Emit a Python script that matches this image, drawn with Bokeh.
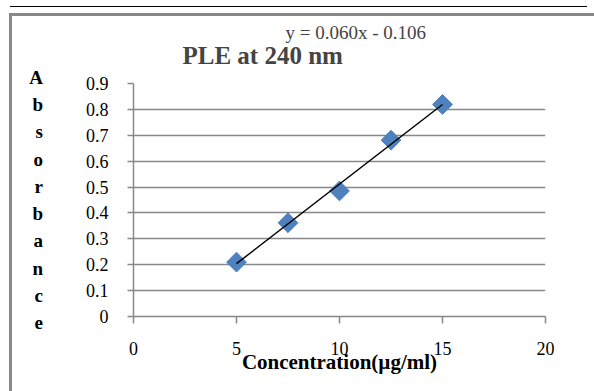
import numpy as np
from bokeh.plotting import figure
from bokeh.models import Title, Range1d, FixedTicker
from bokeh.embed import file_html
from bokeh.resources import INLINE

# ---- data ----
concentration = [5, 7.5, 10, 12.5, 15]
absorbance = [0.210, 0.362, 0.485, 0.681, 0.819]
x_ticks = [0, 5, 10, 15, 20]
y_ticks = [0, 0.1, 0.2, 0.3, 0.4, 0.5, 0.6, 0.7, 0.8, 0.9]
title_text = "PLE at 240 nm"
equation_text = "y = 0.060x - 0.106"
x_title = "Concentration(µg/ml)"
y_title = "Absorbance"

SERIF = "Liberation Serif"
GRAY = "#888888"

p = figure(width=594, height=391, output_backend="svg", toolbar_location=None,
           x_range=Range1d(0, 20), y_range=Range1d(0, 0.9),
           min_border_left=133, min_border_right=49,
           min_border_top=83, min_border_bottom=75)
p.outline_line_color = None
p.background_fill_color = "white"
p.border_fill_color = None

# decorative page elements (gray chart border, rule above it) via CSS background
p.styles = {
    "background-color": "white",
    "background-image": ("linear-gradient(#000,#000), linear-gradient(#888,#888), "
                         "linear-gradient(#888,#888)"),
    "background-position": "10px 6px, 9px 13px, 9px 13px",
    "background-size": "577px 1px, 3px 500px, 700px 3px",
    "background-repeat": "no-repeat",
}

# the plot's own title slot holds the regression equation (outermost);
# the chart title is added closest to the frame
p.title.text = equation_text
p.title.text_font = SERIF
p.title.text_font_size = "19px"
p.title.text_font_style = "normal"
p.title.align = "left"
p.title.offset = 152
p.title.standoff = -36

p.add_layout(Title(text=title_text, text_font=SERIF, text_font_size="25px",
                   text_font_style="bold", align="left", offset=49, standoff=30),
             "above")

# axes
for ax in (p.xaxis[0], p.yaxis[0]):
    ax.axis_line_color = GRAY
    ax.axis_line_width = 1.5
    ax.major_tick_line_color = GRAY
    ax.major_tick_line_width = 1.5
    ax.major_tick_in = 0
    ax.minor_tick_line_color = None
    ax.major_label_text_font = SERIF
    ax.major_label_text_font_size = "18px"
    ax.major_label_text_color = "black"
    ax.axis_label_text_font = SERIF
    ax.axis_label_text_font_style = "bold"
    ax.axis_label_text_color = "black"

p.xaxis.ticker = FixedTicker(ticks=x_ticks)
p.xaxis.major_tick_out = 7
p.xaxis.major_label_standoff = 18
p.xaxis.axis_label = x_title
p.xaxis.axis_label_text_font_size = "21px"
p.xaxis.axis_label_standoff = -8

p.yaxis.ticker = FixedTicker(ticks=y_ticks)
p.yaxis.major_tick_out = 6
p.yaxis.major_label_standoff = 19
p.yaxis.major_label_overrides = {0: "0"}
p.yaxis.axis_label = "\n".join(y_title)
p.yaxis.axis_label_orientation = "horizontal"
p.yaxis.axis_label_text_font_size = "19px"
p.yaxis.axis_label_text_line_height = 1.30
p.yaxis.axis_label_standoff = 40

p.xgrid.grid_line_color = None
p.ygrid.grid_line_color = GRAY
p.ygrid.grid_line_width = 1.5
p.ygrid.ticker = FixedTicker(ticks=y_ticks[1:])

# trend line from least-squares fit of the data
slope, intercept = np.polyfit(concentration, absorbance, 1)
x_fit = [min(concentration), max(concentration)]
y_fit = [slope * v + intercept for v in x_fit]

p.scatter(concentration, absorbance, marker="square", size=14, angle=np.pi / 4,
          fill_color="#4F81BD", line_color="#4F81BD")
p.line(x_fit, y_fit, line_color="black", line_width=1.5)

open("out.html", "w").write(file_html(p, INLINE))
